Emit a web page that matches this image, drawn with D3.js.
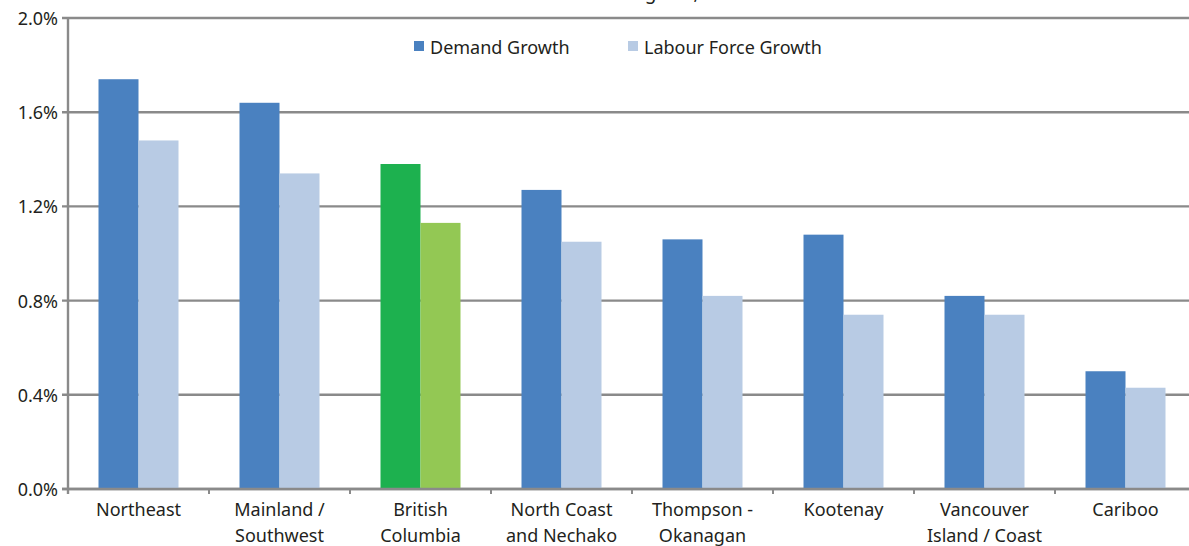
<!DOCTYPE html>
<html>
<head>
<meta charset="utf-8">
<script src="https://cdn.jsdelivr.net/npm/d3@7"></script>
<style>
  html, body { margin: 0; padding: 0; background: #fff; overflow: hidden; }
  svg { display: block; font-family: "Noto Sans", "Open Sans", sans-serif; }
</style>
</head>
<body>
<svg id="chart" width="1189" height="546"></svg>
<script>
// Regions (each label split into lines)
const regions = [
  ["Northeast"],
  ["Mainland /", "Southwest"],
  ["British", "Columbia"],
  ["North Coast", "and Nechako"],
  ["Thompson -", "Okanagan"],
  ["Kootenay"],
  ["Vancouver", "Island / Coast"],
  ["Cariboo"]
];
// Annual growth, percent
const demandGrowth      = [1.74, 1.64, 1.38, 1.27, 1.06, 1.08, 0.82, 0.50];
const labourForceGrowth = [1.48, 1.34, 1.13, 1.05, 0.82, 0.74, 0.74, 0.43];
const seriesNames = ["Demand Growth", "Labour Force Growth"];
const yTicks = [0, 0.4, 0.8, 1.2, 1.6, 2.0];
const highlightRegion = "British Columbia";
const titleText = "Demand and Labour Force Growth in Regions, 2010-2020";

const colors = { demand: "#4a81c0", labour: "#b8cbe4", hiDemand: "#1db14f", hiLabour: "#93c854" };
const textColor = "#231f20";
const fontSize = 18;

const svg = d3.select("#chart");
const margin = { left: 68, top: 18, bottom: 489, right: 1196 };

const keys = regions.map(r => r.join(" "));
const x = d3.scaleBand().domain(keys).range([margin.left, margin.right]).paddingInner(0).paddingOuter(0);
const y = d3.scaleLinear().domain([0, 2.0]).range([margin.bottom, margin.top]);
const inner = d3.scaleBand().domain(seriesNames).range([0, 80]);
const groupOffset = (x.bandwidth() - 80) / 2;

// Title (sits above the top edge)
svg.append("text")
  .attr("x", 542).attr("y", -1)
  .attr("text-anchor", "middle")
  .attr("font-size", 19)
  .attr("fill", textColor)
  .text(titleText);

// Horizontal gridlines with small outer ticks
svg.append("g")
  .selectAll("line")
  .data(yTicks)
  .join("line")
  .attr("x1", margin.left - 6).attr("x2", 1189)
  .attr("y1", d => y(d)).attr("y2", d => y(d))
  .attr("stroke", "#8a8a8a").attr("stroke-width", 2.4);

// Y tick labels
svg.append("g")
  .selectAll("text")
  .data(yTicks)
  .join("text")
  .attr("x", 58).attr("y", d => y(d) + 7)
  .attr("text-anchor", "end")
  .attr("font-size", fontSize)
  .attr("fill", textColor)
  .text(d => d.toFixed(1) + "%");

// Bars
const rows = keys.map((k, i) => ({ key: k, demand: demandGrowth[i], labour: labourForceGrowth[i] }));
const groups = svg.append("g").selectAll("g")
  .data(rows)
  .join("g")
  .attr("transform", d => `translate(${x(d.key) + groupOffset},0)`);

groups.append("rect")
  .attr("x", inner("Demand Growth"))
  .attr("width", inner.bandwidth())
  .attr("y", d => y(d.demand))
  .attr("height", d => y(0) - y(d.demand))
  .attr("fill", d => d.key === highlightRegion ? colors.hiDemand : colors.demand);

groups.append("rect")
  .attr("x", inner("Labour Force Growth"))
  .attr("width", inner.bandwidth())
  .attr("y", d => y(d.labour))
  .attr("height", d => y(0) - y(d.labour))
  .attr("fill", d => d.key === highlightRegion ? colors.hiLabour : colors.labour);

// Axis lines
svg.append("line")
  .attr("x1", margin.left).attr("x2", margin.left)
  .attr("y1", margin.top - 1).attr("y2", margin.bottom + 5)
  .attr("stroke", "#8a8a8a").attr("stroke-width", 2.4);
svg.append("line")
  .attr("x1", margin.left - 6).attr("x2", 1189)
  .attr("y1", y(0)).attr("y2", y(0))
  .attr("stroke", "#8a8a8a").attr("stroke-width", 2.4);

// Category boundary ticks
svg.append("g")
  .selectAll("line")
  .data(keys.slice(1))
  .join("line")
  .attr("x1", d => x(d)).attr("x2", d => x(d))
  .attr("y1", y(0)).attr("y2", y(0) + 5)
  .attr("stroke", "#8a8a8a").attr("stroke-width", 2);

// Category labels
const labels = svg.append("g").selectAll("text")
  .data(regions)
  .join("text")
  .attr("text-anchor", "middle")
  .attr("font-size", fontSize)
  .attr("fill", textColor)
  .attr("transform", (d, i) => `translate(${x(keys[i]) + x.bandwidth() / 2},516)`);
labels.selectAll("tspan")
  .data(d => d)
  .join("tspan")
  .attr("x", 0)
  .attr("dy", (d, i) => i === 0 ? 0 : 26)
  .text(d => d);

// Legend
const legend = svg.append("g");
const legendItems = [
  { name: seriesNames[0], color: colors.demand, x: 414 },
  { name: seriesNames[1], color: colors.labour, x: 628 }
];
legendItems.forEach(it => {
  legend.append("rect").attr("x", it.x).attr("y", 41).attr("width", 10).attr("height", 10).attr("fill", it.color);
  legend.append("text").attr("x", it.x + 16).attr("y", 54)
    .attr("font-size", fontSize).attr("fill", textColor).text(it.name);
});
</script>
</body>
</html>
